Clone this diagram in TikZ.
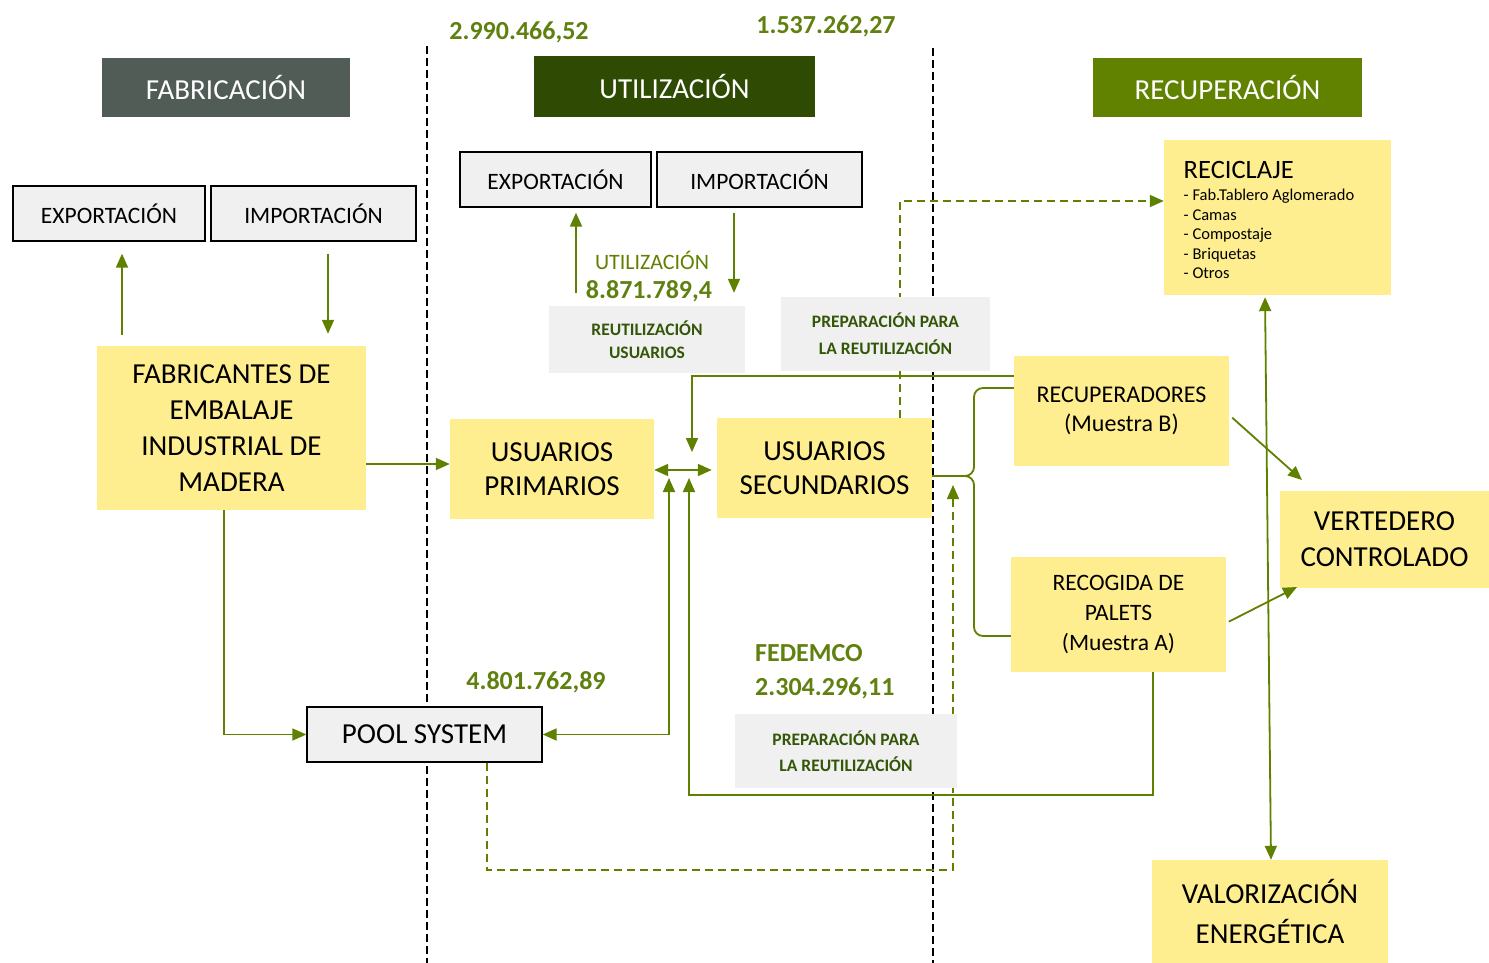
\documentclass[tikz,border=0pt]{standalone}
\usepackage{fontspec}
\setmainfont{Carlito}
\usepackage{tikz}
\usetikzlibrary{arrows.meta}

\definecolor{amarillo}{RGB}{255,238,144}
\definecolor{verde}{RGB}{96,128,0}
\definecolor{verdecifra}{RGB}{96,128,16}
\definecolor{verdeosc}{RGB}{52,86,8}
\definecolor{grisclaro}{RGB}{240,240,240}
\definecolor{grisfab}{RGB}{81,92,87}
\definecolor{verdeutil}{RGB}{46,74,3}
\definecolor{verderec}{RGB}{96,130,0}

\tikzset{
  cabecera/.style={text=white, inner sep=0pt, minimum height=59pt, font=\fontsize{29}{34}\selectfont},
  caja/.style={fill=amarillo, align=center, inner sep=0pt, font=\fontsize{29}{36}\selectfont},
  cajagris/.style={draw=black, line width=1.3pt, fill=grisclaro, inner sep=0pt, minimum height=55pt, font=\fontsize{23.5}{28}\selectfont},
  etiqueta/.style={fill=grisclaro, align=center, inner sep=0pt, text=verdeosc, font=\bfseries\fontsize{17.5}{27}\selectfont},
  cifra/.style={text=verdecifra, inner sep=0pt, font=\bfseries\fontsize{26}{32}\selectfont},
  flecha/.style={draw=verde, line width=1.8pt, -{Triangle[length=14pt,width=12pt]}},
  dobleflecha/.style={flecha, {Triangle[length=14pt,width=12pt]}-{Triangle[length=14pt,width=12pt]}},
  linea/.style={draw=verde, line width=1.8pt},
  discontinua/.style={flecha, dash pattern=on 8pt off 5pt},
  division/.style={draw=black, line width=2.5pt, dash pattern=on 8pt off 4pt},
}

\begin{document}
\begin{tikzpicture}[x=1pt, y=-1pt]
\useasboundingbox (0,0) rectangle (1489,963);

% Divisiones entre fases
\draw[division] (427,46) -- (427,963);
\draw[division] (933,48) -- (933,963);

% Cabeceras
\node[cabecera, fill=grisfab, minimum width=248pt] (fabricacion) at (226,87.5) {FABRICACIÓN};
\node[cabecera, fill=verdeutil, minimum width=281pt, minimum height=61pt] (utilizacion) at (674.5,86.5) {UTILIZACIÓN};
\node[cabecera, fill=verderec, minimum width=269pt] (recuperacion) at (1227.5,87.5) {RECUPERACIÓN};

% Cifras
\node[cifra] (cifraFab) at (519,32) {2.990.466,52};
\node[cifra] (cifraRec) at (826,26) {1.537.262,27};
\node[cifra] (cifraUtil) at (649,291) {8.871.789,4};
\node[cifra] (cifraPool) at (536,682) {4.801.762,89};
\node[cifra, anchor=west] (fedemco) at (755,653) {FEDEMCO};
\node[cifra, anchor=west] (cifraFed) at (755,688) {2.304.296,11};
\node[text=verde, inner sep=0pt, font=\fontsize{22}{26}\selectfont] (utilTexto) at (652,260) {UTILIZACIÓN};

% Exportación e importación
\node[cajagris, minimum width=192pt] (expF) at (109,213.5) {EXPORTACIÓN};
\node[cajagris, minimum width=205pt] (impF) at (313.5,213.5) {IMPORTACIÓN};
\node[cajagris, minimum width=191pt] (expU) at (555.5,179.5) {EXPORTACIÓN};
\node[cajagris, minimum width=205pt] (impU) at (759.5,179.5) {IMPORTACIÓN};

% Cajas principales
\node[caja, minimum width=269pt, minimum height=164pt] (fabricantes) at (231.5,428) {FABRICANTES DE\\EMBALAJE\\INDUSTRIAL DE\\MADERA};
\node[caja, minimum width=204pt, minimum height=100pt, font=\fontsize{29}{34}\selectfont] (primarios) at (552,469) {USUARIOS\\PRIMARIOS};
\node[caja, minimum width=215pt, minimum height=100pt, font=\fontsize{29}{34}\selectfont] (secundarios) at (824.5,468) {USUARIOS\\SECUNDARIOS};
\node[cajagris, minimum width=235pt, font=\fontsize{29}{34}\selectfont] (pool) at (424.5,734.5) {POOL SYSTEM};
\node[caja, minimum width=227pt, minimum height=155pt, font=\fontsize{16.5}{19.5}\selectfont] (reciclaje) at (1277.5,217.5)
  {\begin{tabular}{@{}l@{\hspace{17pt}}}
   \rule{0pt}{28pt}\fontsize{26.5}{30}\selectfont RECICLAJE\\[3pt]
   - Fab.Tablero Aglomerado\\
   - Camas\\
   - Compostaje\\
   - Briquetas\\
   - Otros
   \end{tabular}};
\node[caja, minimum width=215pt, minimum height=110pt, font=\fontsize{24}{29}\selectfont] (recuperadores) at (1121.5,411) {RECUPERADORES\\(Muestra B)};
\node[caja, minimum width=209pt, minimum height=97pt] (vertedero) at (1384.5,539.5) {VERTEDERO\\CONTROLADO};
\node[caja, minimum width=215pt, minimum height=115pt, font=\fontsize{23.5}{30}\selectfont] (recogida) at (1118.5,614.5) {RECOGIDA DE\\PALETS\\(Muestra A)};
\node[caja, minimum width=236pt, minimum height=103pt, font=\fontsize{29}{40}\selectfont] (valorizacion) at (1270,911.5) {VALORIZACIÓN\\ENERGÉTICA};
\node[etiqueta, minimum width=196pt, minimum height=67pt, font=\bfseries\fontsize{17.5}{23}\selectfont] (reutUsuarios) at (647,339.5) {REUTILIZACIÓN\\USUARIOS};

% Puntos libres
\coordinate (cruce) at (692,452);
\coordinate (subidaPool) at (669,478);
\coordinate (subidaRecogida) at (689,478);
\coordinate (esquinaRecogida) at (1153,795);
\coordinate (subidaDisc) at (953,485);
\coordinate (esquinaDisc) at (487,870);
\coordinate (llave) at (974,476);
\coordinate (puntaB) at (1302,480);
\coordinate (puntaA) at (1297,587);

% Fabricacion
\draw[flecha, shorten <=11pt, shorten >=12pt] (fabricantes.north -| 122,0) -- (expF.south -| 122,0);
\draw[flecha, shorten <=12pt, shorten >=12pt] (impF.south -| 328,0) -- (fabricantes.north -| 328,0);
\draw[flecha] (fabricantes.east |- 0,464) -- (primarios.west |- 0,464);
\draw[flecha] (fabricantes.south -| 224,0) |- (pool.west);

% Utilizacion
\draw[flecha, shorten <=13pt, shorten >=5pt] (reutUsuarios.north -| 576,0) -- (expU.south -| 576,0);
\draw[flecha, shorten <=5pt, shorten >=13pt] (impU.south -| 734,0) -- (reutUsuarios.north -| 734,0);
\draw[flecha] (recuperadores.west |- 0,376) -| (cruce);
\draw[dobleflecha, shorten <=0pt, shorten >=5pt] (primarios.east |- 0,470) -- (secundarios.west |- 0,470);
\draw[dobleflecha] (pool.east) -| (subidaPool);
\draw[flecha] (recogida.south -| esquinaRecogida) -- (esquinaRecogida) -| (subidaRecogida);

% Flujos discontinuos
\draw[discontinua, line width=1.5pt] (pool.south -| esquinaDisc) -- (esquinaDisc) -| (subidaDisc);
\draw[discontinua] (secundarios.north -| 900,0) |- (reciclaje.west |- 0,201);

% Llave hacia recuperadores y recogida
\draw[linea, rounded corners=9pt] (recuperadores.west |- 0,388) -| (llave) -- (secundarios.east |- llave);
\draw[linea, rounded corners=9pt] (recogida.west |- 0,636) -| (llave) -- (secundarios.east |- llave);

% Hacia vertedero
\draw[flecha, shorten <=4pt] (recuperadores.east |- 0,415) -- (puntaB);
\draw[flecha, shorten <=3pt] (recogida.east |- 0,623) -- (puntaA);

% Reciclaje y valorizacion
\draw[dobleflecha, shorten <=2pt] (reciclaje.south -| 1265,0) -- (valorizacion.north -| 1271,0);

% Etiquetas encima de las lineas
\node[etiqueta, minimum width=209pt, minimum height=74pt] (prepArriba) at (885.5,334) {PREPARACIÓN PARA\\LA REUTILIZACIÓN};
\node[etiqueta, minimum width=222pt, minimum height=74pt, font=\bfseries\fontsize{17.5}{26}\selectfont] (prepAbajo) at (846,751) {PREPARACIÓN PARA\\LA REUTILIZACIÓN};
\end{tikzpicture}
\end{document}
